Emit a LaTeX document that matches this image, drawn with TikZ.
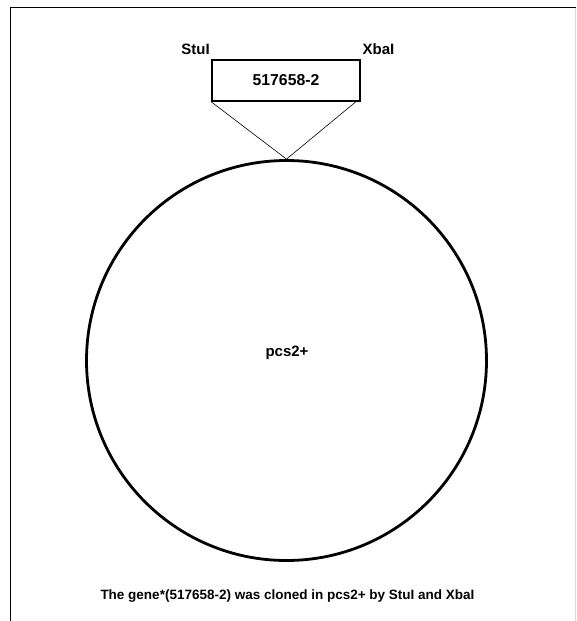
\documentclass[tikz,border=0pt]{standalone}
\usepackage{fontspec}
\setmainfont{Liberation Sans}
\begin{document}
\begin{tikzpicture}[x=1pt,y=-1pt,
  lbl/.style={font=\bfseries\fontsize{15}{18}\selectfont, inner sep=0pt},
  insertbox/.style={draw, line width=1.6pt, minimum width=148pt, minimum height=41pt, inner sep=0pt, font=\bfseries\fontsize{15.8}{18}\selectfont},
  thin/.style={line width=0.6pt},
  frame/.style={line width=1.8pt}]
\useasboundingbox (0,0) rectangle (576,621);
\fill[white] (0,0) rectangle (576,621);
% frame
\draw[frame] (10.5,621) -- (10.5,7.5) -- (576,7.5);
\draw[black!15, line width=0.8pt] (575.5,7.5) -- (575.5,621);
% insert box
\node[insertbox] (ins) at (286,80.5) {517658-2};
\node[lbl] (stu) at (195.5,49.5) {StuI};
\node[lbl] (xba) at (378.5,49.5) {XbaI};
% plasmid
\node[draw, circle, line width=2.8pt, minimum size=400pt, inner sep=0pt] (pl) at (286.5,360.5) {};
\node[lbl] (pcs) at (287,353) {pcs2+};
\coordinate (tip) at (pl.north);
\draw[thin] (ins.south west) -- (tip);
\draw[thin] ([xshift=-5pt]ins.south east) -- (tip);
% caption
\node[lbl, font=\bfseries\fontsize{13.5}{16}\selectfont, anchor=base] (cap) at (287.5,599.5) {The gene*(517658-2) was cloned in pcs2+ by StuI and XbaI};
\end{tikzpicture}
\end{document}
